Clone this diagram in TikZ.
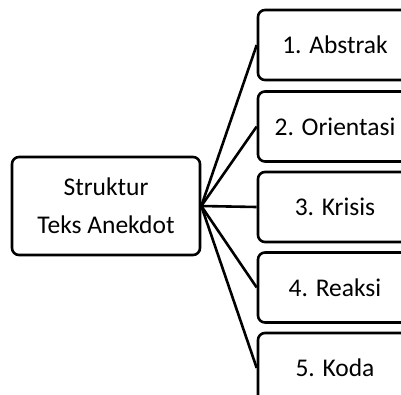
\documentclass[tikz,border=0pt]{standalone}
\usepackage{fontspec}
\setmainfont{Carlito}
\usetikzlibrary{positioning}

\begin{document}
\begin{tikzpicture}[x=1pt,y=-1pt,
    box/.style={draw,line width=2.6pt,rounded corners=7pt,fill=white,
      font=\fontsize{25.5}{38}\selectfont,align=center,inner sep=0pt},
    part/.style={box,minimum width=154pt,minimum height=70pt},
    link/.style={line width=2.6pt}]
  \useasboundingbox (0,0) rectangle (401,394);
  \clip (0,0) rectangle (401,394);
  \coordinate (pMain) at (106,206);
  \node[box,minimum width=188pt,minimum height=98pt] (struktur) at (pMain) {Struktur\\Teks Anekdot};
  \node[part] (abstrak) at (335,45) {1. Abstrak};
  \node[part] (orientasi) at (335,126.5) {2. Orientasi};
  \node[part] (krisis) at (335,207) {3. Krisis};
  \node[part] (reaksi) at (335,287.5) {4. Reaksi};
  \node[part] (koda) at (335,368) {5. Koda};
  \draw[link] (struktur.east) -- (abstrak.west);
  \draw[link] (struktur.east) -- (orientasi.west);
  \draw[link] (struktur.east) -- (krisis.west);
  \draw[link] (struktur.east) -- (reaksi.west);
  \draw[link] (struktur.east) -- (koda.west);
\end{tikzpicture}
\end{document}
